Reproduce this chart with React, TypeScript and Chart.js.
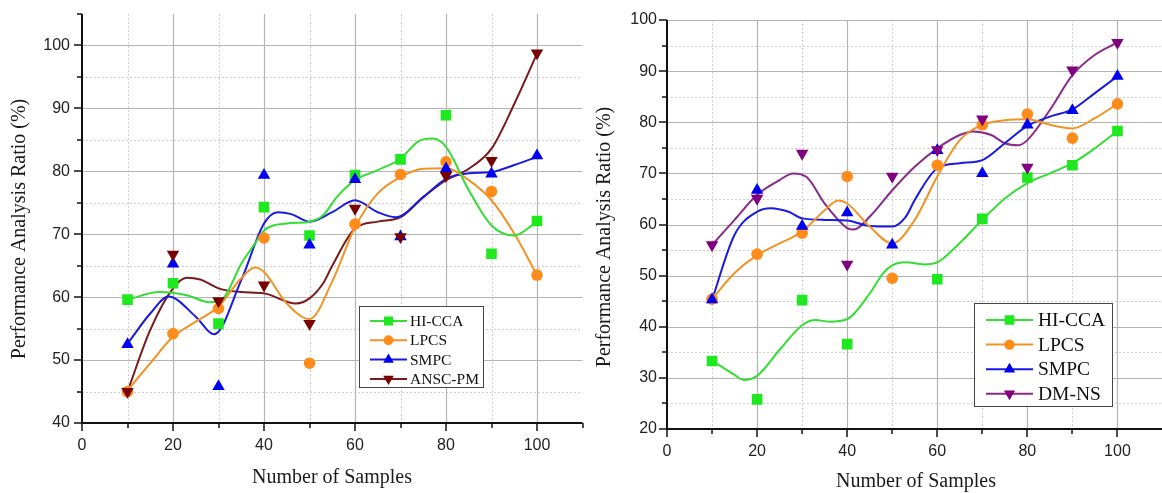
import React, { useEffect, useRef } from 'react';
import { Chart, registerables } from 'chart.js';

Chart.register(...registerables);

// ---------- shared ----------
const sampleX = [10, 20, 30, 40, 50, 60, 70, 80, 90, 100];
const xTicks = [0, 20, 40, 60, 80, 100];
const xTitle = 'Number of Samples';
const yTitle = 'Performance Analysis Ratio (%)';

// ---------- left panel: measured points ----------
const leftLabels = ['HI-CCA', 'LPCS', 'SMPC', 'ANSC-PM'];
const leftHiCca = [59.6, 62.2, 55.8, 74.3, 69.8, 79.4, 81.9, 88.9, 66.9, 72.1];
const leftLpcs = [45.0, 54.2, 58.2, 69.4, 49.5, 71.6, 79.5, 81.5, 76.8, 63.5];
const leftSmpc = [52.5, 65.3, 45.8, 79.4, 68.3, 78.7, 69.6, 80.4, 79.6, 82.5];
const leftAnscPm = [45.0, 66.8, 59.4, 61.9, 55.8, 74.1, 69.6, 79.3, 81.7, 98.8];
const leftYTicks = [40, 50, 60, 70, 80, 90, 100];

// ---------- left panel: fitted curves ----------
const leftHiCcaCurveX = [10, 17, 23, 28, 31, 35, 38, 40, 45, 50, 53, 56, 60, 65, 70, 74, 77, 80, 85, 90, 95, 100];
const leftHiCcaCurveY = [59.6, 60.8, 60.3, 59.2, 59.8, 65.3, 68.5, 70.6, 71.7, 72.0, 73.0, 75.9, 78.6, 80.2, 82.0, 84.8, 85.2, 83.9, 77.0, 71.4, 69.8, 72.0];
const leftLpcsCurveX = [10, 15, 20, 25, 30, 35, 38, 40, 45, 50, 55, 60, 65, 70, 75, 80, 85, 90, 95, 100];
const leftLpcsCurveY = [45.2, 49.5, 53.7, 56.1, 58.5, 63.0, 64.7, 64.0, 59.0, 56.5, 62.5, 71.1, 76.5, 79.1, 80.4, 80.5, 78.6, 75.4, 70.1, 63.5];
const leftSmpcCurveX = [10, 15, 19, 25, 29, 35, 40, 43, 46, 50, 55, 60, 65, 69, 75, 80, 85, 90, 95, 100];
const leftSmpcCurveY = [52.6, 57.4, 60.1, 56.9, 54.1, 62.7, 71.7, 73.5, 73.2, 72.0, 73.5, 75.4, 73.5, 72.7, 75.9, 78.8, 79.7, 79.9, 81.0, 82.3];
const leftAnscCurveX = [10, 15, 20, 23, 26, 30, 35, 40, 47, 50, 53, 55, 60, 65, 70, 75, 80, 85, 90, 95, 100];
const leftAnscCurveY = [45.0, 54.8, 61.4, 63.1, 62.8, 61.4, 60.8, 60.6, 59.0, 59.8, 62.2, 65.0, 70.9, 72.0, 72.7, 75.9, 78.6, 80.4, 83.6, 90.7, 98.7];

// ---------- right panel: measured points ----------
const rightLabels = ['HI-CCA', 'LPCS', 'SMPC', 'DM-NS'];
const rightHiCca = [33.3, 25.8, 45.2, 36.6, null, 49.3, 61.1, 69.2, 71.6, 78.3];
const rightLpcs = [45.4, 54.2, 58.3, 69.4, 49.5, 71.6, 79.5, 81.6, 76.9, 83.6];
const rightSmpc = [45.3, 66.7, 59.7, 62.3, 56.0, 74.5, 70.0, 79.5, 82.3, 89.0];
const rightDmNs = [56.0, 65.1, 73.9, 52.2, 69.4, 74.6, 80.6, 71.2, 90.2, 95.6];
const rightYTicks = [20, 30, 40, 50, 60, 70, 80, 90, 100];

// ---------- right panel: fitted curves ----------
const rightHiCcaCurveX = [10, 15, 17, 20, 25, 30, 33, 36, 40, 45, 48, 50, 53, 57, 60, 65, 70, 75, 80, 85, 90, 95, 100];
const rightHiCcaCurveY = [33.4, 30.6, 29.6, 30.4, 35.5, 40.3, 41.3, 41.0, 41.5, 46.5, 50.5, 52.0, 52.6, 52.2, 52.6, 56.4, 60.9, 65.1, 68.1, 70.0, 72.0, 74.9, 78.3];
const rightLpcsCurveX = [10, 15, 20, 25, 30, 35, 38, 40, 45, 50, 55, 60, 65, 70, 75, 80, 85, 90, 95, 100];
const rightLpcsCurveY = [45.4, 50.5, 54.0, 56.3, 58.6, 62.8, 64.7, 64.1, 59.6, 56.3, 60.9, 69.4, 76.5, 79.5, 80.4, 80.6, 79.5, 78.8, 80.8, 83.6];
const rightSmpcCurveX = [10, 15, 20, 23, 27, 30, 35, 40, 45, 50, 53, 55, 60, 65, 70, 75, 80, 85, 90, 95, 100];
const rightSmpcCurveY = [45.3, 58.0, 62.5, 63.2, 62.5, 61.2, 60.9, 60.8, 59.7, 59.6, 61.5, 64.8, 71.0, 72.0, 72.6, 75.9, 79.3, 81.1, 82.5, 85.7, 89.0];
const rightDmNsCurveX = [10, 15, 20, 25, 28, 31, 35, 40, 41.5, 45, 50, 55, 60, 65, 68, 72, 75, 78, 80, 85, 90, 95, 100];
const rightDmNsCurveY = [56.0, 60.9, 65.8, 68.7, 70.0, 69.3, 64.1, 59.3, 59.0, 61.5, 66.7, 71.3, 74.9, 77.5, 78.2, 77.5, 75.9, 75.5, 76.5, 82.4, 89.2, 93.2, 95.6];

// ---------- styles ----------
const markerColors = ['#1ee81e', '#ff8c1a', '#0000f0', '#7a0000'];
const lineColors = ['#33dd33', '#f39224', '#1a1ae0', '#7a1a1a'];
const rightMarkerColors = ['#1ee81e', '#ff8c1a', '#0000f0', '#800080'];
const rightLineColors = ['#33dd33', '#f39224', '#1a1ae0', '#8a2a8a'];
const markerStyles = ['rect', 'circle', 'triangle', 'triangle'];
const markerRotations = [0, 0, 0, 180];
const markerRadii = [7.5, 5.8, 7.2, 7.2];

const SANS = '"Liberation Sans", Arial, sans-serif';
const SERIF = '"Liberation Serif", "Times New Roman", serif';

type PanelCfg = {
  width: number;
  yAxisWidth: number;
  xAxisHeight: number;
  padTop: number;
  padRight: number;
  yMin: number;
  yMax: number;
  yTicks: number[];
  yMinorStart: number;
  xLabelPad: number;
  yLabelPad: number;
  labels: string[];
  points: (number | null)[][];
  curvesX: number[][];
  curvesY: number[][];
  markers: string[];
  lines: string[];
  legend: { x: number; y: number; w: number; h: number; lineX0: number; lineX1: number; textX: number; row0: number; rowStep: number; font: number; mScale: number };
  xTitlePos: [number, number];
  yTitlePos: [number, number];
};

function drawMarker(ctx: CanvasRenderingContext2D, style: string, rot: number, x: number, y: number, r: number, color: string) {
  ctx.save();
  ctx.fillStyle = color;
  ctx.beginPath();
  if (style === 'rect') {
    const s = r * Math.SQRT1_2;
    ctx.rect(x - s, y - s, 2 * s, 2 * s);
  } else if (style === 'circle') {
    ctx.arc(x, y, r, 0, Math.PI * 2);
  } else {
    let a = (rot * Math.PI) / 180;
    for (let k = 0; k < 3; k++) {
      const px = x + Math.sin(a) * r;
      const py = y - Math.cos(a) * r;
      if (k === 0) ctx.moveTo(px, py);
      else ctx.lineTo(px, py);
      a += (2 * Math.PI) / 3;
    }
    ctx.closePath();
  }
  ctx.fill();
  ctx.restore();
}

function makePlugin(cfg: PanelCfg) {
  return {
    id: 'decor',
    beforeDatasetsDraw(chart: any) {
      const { ctx, chartArea } = chart;
      const { left, right, top, bottom } = chartArea;
      const xs = chart.scales.x;
      const ys = chart.scales.y;
      ctx.save();
      ctx.lineWidth = 1;
      // minor dotted
      ctx.strokeStyle = '#cfcfcf';
      ctx.setLineDash([2, 2]);
      for (let v = 10; v <= 110; v += 20) {
        const px = Math.round(xs.getPixelForValue(v)) + 0.5;
        if (px >= right) continue;
        ctx.beginPath();
        ctx.moveTo(px, top);
        ctx.lineTo(px, bottom);
        ctx.stroke();
      }
      for (let v = cfg.yMinorStart; v < cfg.yMax; v += 10) {
        const py = Math.round(ys.getPixelForValue(v)) + 0.5;
        ctx.beginPath();
        ctx.moveTo(left, py);
        ctx.lineTo(right, py);
        ctx.stroke();
      }
      // major solid
      ctx.setLineDash([]);
      ctx.strokeStyle = '#b4b4b4';
      ctx.lineWidth = 1.2;
      for (const v of xTicks) {
        if (v === 0) continue;
        const px = Math.round(xs.getPixelForValue(v)) + 0.5;
        ctx.beginPath();
        ctx.moveTo(px, top);
        ctx.lineTo(px, bottom);
        ctx.stroke();
      }
      for (const v of cfg.yTicks) {
        if (v === cfg.yMin) continue;
        const py = Math.round(ys.getPixelForValue(v)) + 0.5;
        ctx.beginPath();
        ctx.moveTo(left, py);
        ctx.lineTo(right, py);
        ctx.stroke();
      }
      ctx.restore();
    },
    afterDatasetsDraw(chart: any) {
      const { ctx, chartArea } = chart;
      const { left, right, top, bottom } = chartArea;
      const xs = chart.scales.x;
      const ys = chart.scales.y;
      ctx.save();
      // axes
      ctx.strokeStyle = '#111';
      ctx.lineWidth = 2;
      ctx.beginPath();
      ctx.moveTo(left, top);
      ctx.lineTo(left, bottom);
      ctx.lineTo(right, bottom);
      ctx.stroke();
      ctx.lineWidth = 1.5;
      // x ticks
      for (let v = 0; v <= 110; v += 10) {
        const px = Math.round(xs.getPixelForValue(v));
        const len = v % 20 === 0 ? 8 : 5;
        ctx.beginPath();
        ctx.moveTo(px, bottom);
        ctx.lineTo(px, bottom + len);
        ctx.stroke();
      }
      // y ticks
      for (let v = cfg.yMin; v <= cfg.yMax + 0.01; v += 5) {
        const py = Math.round(ys.getPixelForValue(v));
        const len = v % 10 === 0 ? 8 : 5;
        ctx.beginPath();
        ctx.moveTo(left, py);
        ctx.lineTo(left - len, py);
        ctx.stroke();
      }
      // titles
      ctx.fillStyle = '#1a1a1a';
      ctx.font = `20px ${SERIF}`;
      ctx.textAlign = 'center';
      ctx.textBaseline = 'middle';
      ctx.fillText(xTitle, cfg.xTitlePos[0], cfg.xTitlePos[1]);
      ctx.save();
      ctx.translate(cfg.yTitlePos[0], cfg.yTitlePos[1]);
      ctx.rotate(-Math.PI / 2);
      ctx.fillText(yTitle, 0, 0);
      ctx.restore();
      // legend
      const L = cfg.legend;
      ctx.fillStyle = '#ffffff';
      ctx.fillRect(L.x, L.y, L.w, L.h);
      ctx.strokeStyle = '#444';
      ctx.lineWidth = 1;
      ctx.strokeRect(L.x + 0.5, L.y + 0.5, L.w, L.h);
      ctx.font = `${L.font}px ${SERIF}`;
      ctx.textAlign = 'left';
      ctx.textBaseline = 'middle';
      cfg.labels.forEach((lab, i) => {
        const ry = L.row0 + i * L.rowStep;
        ctx.strokeStyle = cfg.lines[i];
        ctx.lineWidth = 2;
        ctx.beginPath();
        ctx.moveTo(L.lineX0, ry);
        ctx.lineTo(L.lineX1, ry);
        ctx.stroke();
        drawMarker(ctx, markerStyles[i], markerRotations[i], (L.lineX0 + L.lineX1) / 2, ry, markerRadii[i] * L.mScale, cfg.markers[i]);
        ctx.fillStyle = '#111';
        ctx.fillText(lab, L.textX, ry + 1);
      });
      ctx.restore();
    },
  };
}

function Panel({ cfg }: { cfg: PanelCfg }) {
  const ref = useRef<HTMLCanvasElement>(null);
  useEffect(() => {
    if (!ref.current) return;
    const datasets: any[] = [];
    cfg.labels.forEach((lab, i) => {
      datasets.push({
        label: lab,
        data: sampleX.map((x, k) => ({ x, y: cfg.points[i][k] })),
        showLine: false,
        pointStyle: markerStyles[i],
        rotation: markerRotations[i],
        pointRadius: markerRadii[i],
        pointBackgroundColor: cfg.markers[i],
        pointBorderColor: cfg.markers[i],
        pointBorderWidth: 0,
        order: 4 - i,
      });
    });
    cfg.labels.forEach((lab, i) => {
      datasets.push({
        label: lab + ' fit',
        data: cfg.curvesX[i].map((x, k) => ({ x, y: cfg.curvesY[i][k] })),
        showLine: true,
        pointRadius: 0,
        borderColor: cfg.lines[i],
        borderWidth: 2,
        cubicInterpolationMode: 'monotone',
        fill: false,
        order: 10 + i,
      });
    });
    const chart = new Chart(ref.current, {
      type: 'scatter',
      data: { datasets },
      options: {
        animation: false,
        responsive: false,
        devicePixelRatio: 1,
        layout: { padding: { top: cfg.padTop, right: cfg.padRight, left: 0, bottom: 0 } },
        plugins: { legend: { display: false }, tooltip: { enabled: false }, title: { display: false } },
        scales: {
          x: {
            type: 'linear',
            min: 0,
            max: 110,
            afterBuildTicks: (s: any) => {
              s.ticks = xTicks.map((v) => ({ value: v }));
            },
            afterFit: (s: any) => {
              s.height = cfg.xAxisHeight;
              s.paddingLeft = 0;
              s.paddingRight = 0;
            },
            grid: { display: false, drawTicks: false },
            border: { display: false },
            ticks: { padding: cfg.xLabelPad, color: '#222', font: { family: SANS, size: 16 }, maxRotation: 0, autoSkip: false },
          },
          y: {
            type: 'linear',
            min: cfg.yMin,
            max: cfg.yMax,
            afterBuildTicks: (s: any) => {
              s.ticks = cfg.yTicks.map((v) => ({ value: v }));
            },
            afterFit: (s: any) => {
              s.width = cfg.yAxisWidth;
              s.paddingTop = 0;
              s.paddingBottom = 0;
            },
            grid: { display: false, drawTicks: false },
            border: { display: false },
            ticks: { padding: cfg.yLabelPad, color: '#222', font: { family: SANS, size: 16 }, autoSkip: false },
          },
        },
      } as any,
      plugins: [makePlugin(cfg) as any],
    });
    return () => chart.destroy();
  }, [cfg]);
  return <canvas ref={ref} width={cfg.width} height={493} style={{ display: 'block' }} />;
}

const leftCfg: PanelCfg = {
  width: 590,
  yAxisWidth: 82,
  xAxisHeight: 70,
  padTop: 14,
  padRight: 7,
  yMin: 40,
  yMax: 105,
  yTicks: leftYTicks,
  yMinorStart: 45,
  xLabelPad: 13,
  yLabelPad: 12,
  labels: leftLabels,
  points: [leftHiCca, leftLpcs, leftSmpc, leftAnscPm],
  curvesX: [leftHiCcaCurveX, leftLpcsCurveX, leftSmpcCurveX, leftAnscCurveX],
  curvesY: [leftHiCcaCurveY, leftLpcsCurveY, leftSmpcCurveY, leftAnscCurveY],
  markers: markerColors,
  lines: lineColors,
  legend: { x: 359, y: 306, w: 124, h: 81, lineX0: 370, lineX1: 407, textX: 410, row0: 321, rowStep: 19.3, font: 15.5, mScale: 0.85 },
  xTitlePos: [332, 478],
  yTitlePos: [20, 229],
};

const rightCfg: PanelCfg = {
  width: 580,
  yAxisWidth: 77,
  xAxisHeight: 64,
  padTop: 20,
  padRight: 5,
  yMin: 20,
  yMax: 100,
  yTicks: rightYTicks,
  yMinorStart: 25,
  xLabelPad: 13,
  yLabelPad: 10,
  labels: rightLabels,
  points: [rightHiCca, rightLpcs, rightSmpc, rightDmNs],
  curvesX: [rightHiCcaCurveX, rightLpcsCurveX, rightSmpcCurveX, rightDmNsCurveX],
  curvesY: [rightHiCcaCurveY, rightLpcsCurveY, rightSmpcCurveY, rightDmNsCurveY],
  markers: rightMarkerColors,
  lines: rightLineColors,
  legend: { x: 384, y: 303, w: 138, h: 103, lineX0: 396, lineX1: 443, textX: 448, row0: 320, rowStep: 24.6, font: 19.5, mScale: 0.9 },
  xTitlePos: [326, 482],
  yTitlePos: [15, 237],
};

export default function App() {
  return (
    <div style={{ position: 'fixed', left: 0, top: 0, width: 1162, height: 493, overflow: 'hidden', background: '#fff' }}>
      <div style={{ position: 'absolute', left: 0, top: 0 }}>
        <Panel cfg={leftCfg} />
      </div>
      <div style={{ position: 'absolute', left: 590, top: 0 }}>
        <Panel cfg={rightCfg} />
      </div>
    </div>
  );
}
